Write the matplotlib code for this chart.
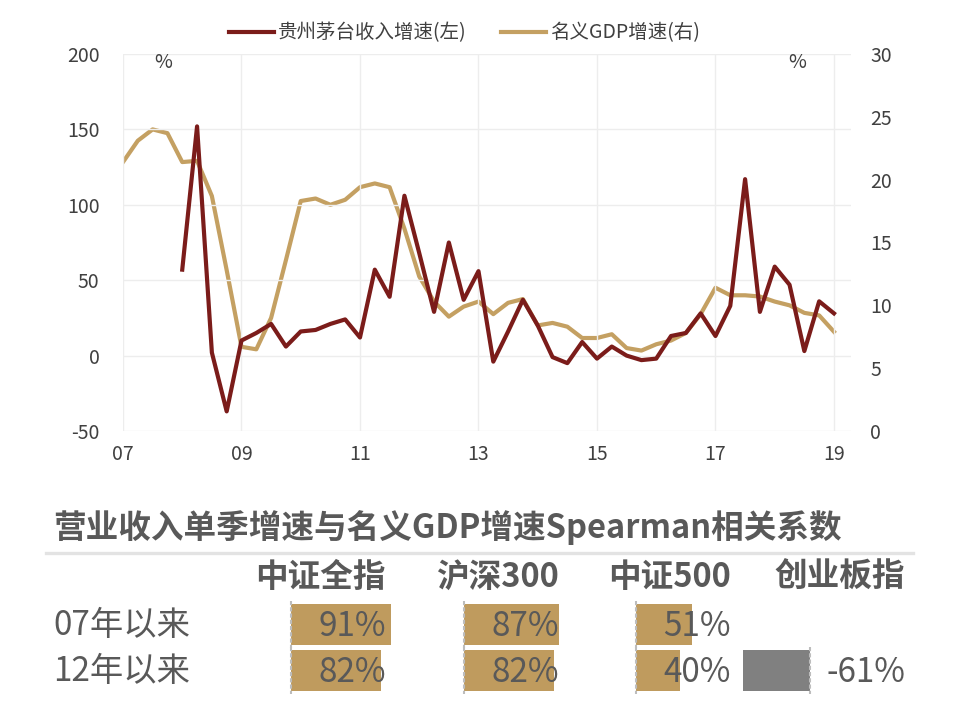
import matplotlib
matplotlib.use("Agg")
import matplotlib.pyplot as plt
import numpy as np

plt.rcParams['font.family'] = ['Noto Sans CJK SC', 'DejaVu Sans']
plt.rcParams['axes.unicode_minus'] = False

# quarterly data, 2007Q1 .. 2019Q1
gdp_growth = [21.4, 23.1, 24.0, 23.7, 21.4, 21.5, 18.7, 12.8, 6.7, 6.5,
              9.0, 13.6, 18.3, 18.5, 18.0, 18.4, 19.4, 19.7, 19.4, 16.1,
              12.3, 10.3, 9.1, 9.9, 10.3, 9.3, 10.2, 10.5, 8.4, 8.6,
              8.3, 7.4, 7.4, 7.7, 6.6, 6.4, 6.9, 7.2, 7.8, 9.3,
              11.4, 10.8, 10.8, 10.7, 10.3, 10.0, 9.4, 9.2, 7.9]
moutai_growth = [np.nan, np.nan, np.nan, np.nan, 57, 152, 2, -37, 10, 15,
                 21, 6, 16, 17, 21, 24, 12, 57, 39, 106,
                 68, 29, 75, 37, 56, -4, 16, 37, 20, -1,
                 -5, 9, -2, 6, 0, -3, -2, 13, 15, 28,
                 13, 33, 117, 29, 59, 47, 3, 36, 28]
year_labels = ['07', '09', '11', '13', '15', '17', '19']
legend_names = ['贵州茅台收入增速(左)', '名义GDP增速(右)']

# spearman table
tbl_title = '营业收入单季增速与名义GDP增速Spearman相关系数'
tbl_cols = ['中证全指', '沪深300', '中证500', '创业板指']
tbl_rows = ['07年以来', '12年以来']
corr_07 = [0.91, 0.87, 0.51, None]
corr_12 = [0.82, 0.82, 0.40, -0.61]

RED = '#7B1C1A'
GOLD = '#C4A062'
BARGOLD = '#BF9B5E'
TXT = '#404040'
TBL = '#595959'
GRID = '#EDEDED'

W, H = 967, 716
fig = plt.figure(figsize=(W / 100, H / 100), dpi=100)

# ---- line chart ----
ax = fig.add_axes([123 / W, 1 - 431 / H, (851 - 123) / W, (431 - 54) / H])
ax2 = ax.twinx()
q = np.arange(len(gdp_growth))
l1, = ax.plot(q, moutai_growth, color=RED, lw=3, zorder=3)
l2, = ax2.plot(q, gdp_growth, color=GOLD, lw=3, zorder=2)
ax.set_zorder(ax2.get_zorder() + 1)
ax.patch.set_visible(False)

ax.set_xlim(0, 49.15)
ax.set_ylim(-50, 200)
ax2.set_ylim(0, 30)
ax.set_yticks(np.arange(-50, 201, 50))
ax2.set_yticks(np.arange(0, 31, 5))
ax.set_xticks(np.arange(0, 49, 8))
ax.set_xticklabels(year_labels)
ax.grid(True, color=GRID, lw=1)
ax.set_axisbelow(True)
for a in (ax, ax2):
    for s in a.spines.values():
        s.set_visible(False)
ax.tick_params(axis='both', length=0, labelsize=14, labelcolor=TXT)
ax.tick_params(axis='y', pad=17)
ax.tick_params(axis='x', pad=9)
ax2.tick_params(axis='y', length=0, labelsize=14, labelcolor=TXT, pad=14)

fig.text(163 / W, 1 - 63 / H, '%', fontsize=14, color=TXT, ha='center', va='center')
fig.text(797 / W, 1 - 63 / H, '%', fontsize=14, color=TXT, ha='center', va='center')

fig.legend([l1, l2], legend_names, loc='center', ncol=2, frameon=False,
           bbox_to_anchor=(464.5 / W, 1 - 33 / H), fontsize=14, labelcolor=TXT,
           handlelength=2.3, handletextpad=0.2, columnspacing=1.8)

# ---- table ----
tx = fig.add_axes([0, 0, 1, 1])
tx.set_xlim(0, W)
tx.set_ylim(H, 0)
tx.axis('off')
tx.patch.set_visible(False)

tx.text(53, 528, tbl_title, fontsize=23.5, fontweight='bold', color=TBL,
        ha='left', va='center')
tx.plot([46, 913], [553, 553], color='#E3E3E3', lw=2.4)

col_right = [386, 559, 731, 905]
col_base = [291, 463.5, 636, 810]
row_y = [626, 672]
bar_h = 41
px_per_unit = 110

for cx, name in zip(col_right, tbl_cols):
    tx.text(cx, 577, name, fontsize=23.5, fontweight='bold', color=TBL,
            ha='right', va='center')

for ry, name in zip(row_y, tbl_rows):
    tx.text(53, ry, name, fontsize=24, color=TBL, ha='left', va='center')

for vals, ry in zip([corr_07, corr_12], row_y):
    for v, cx, bx in zip(vals, col_right, col_base):
        if v is None:
            continue
        c = BARGOLD if v >= 0 else '#808080'
        tx.barh(ry - 2, v * px_per_unit, left=bx, height=bar_h, color=c, zorder=1)
        tx.plot([bx, bx], [ry - 2 - bar_h / 2 - 3, ry - 2 + bar_h / 2 + 3],
                color='#BDBDBD', lw=1.5, ls=(0, (2, 1)), zorder=2)
        tx.text(cx, ry, f'{v * 100:.0f}%', fontsize=24, color=TBL,
                ha='right', va='center', zorder=3)

fig.savefig('out.png', dpi=100)
